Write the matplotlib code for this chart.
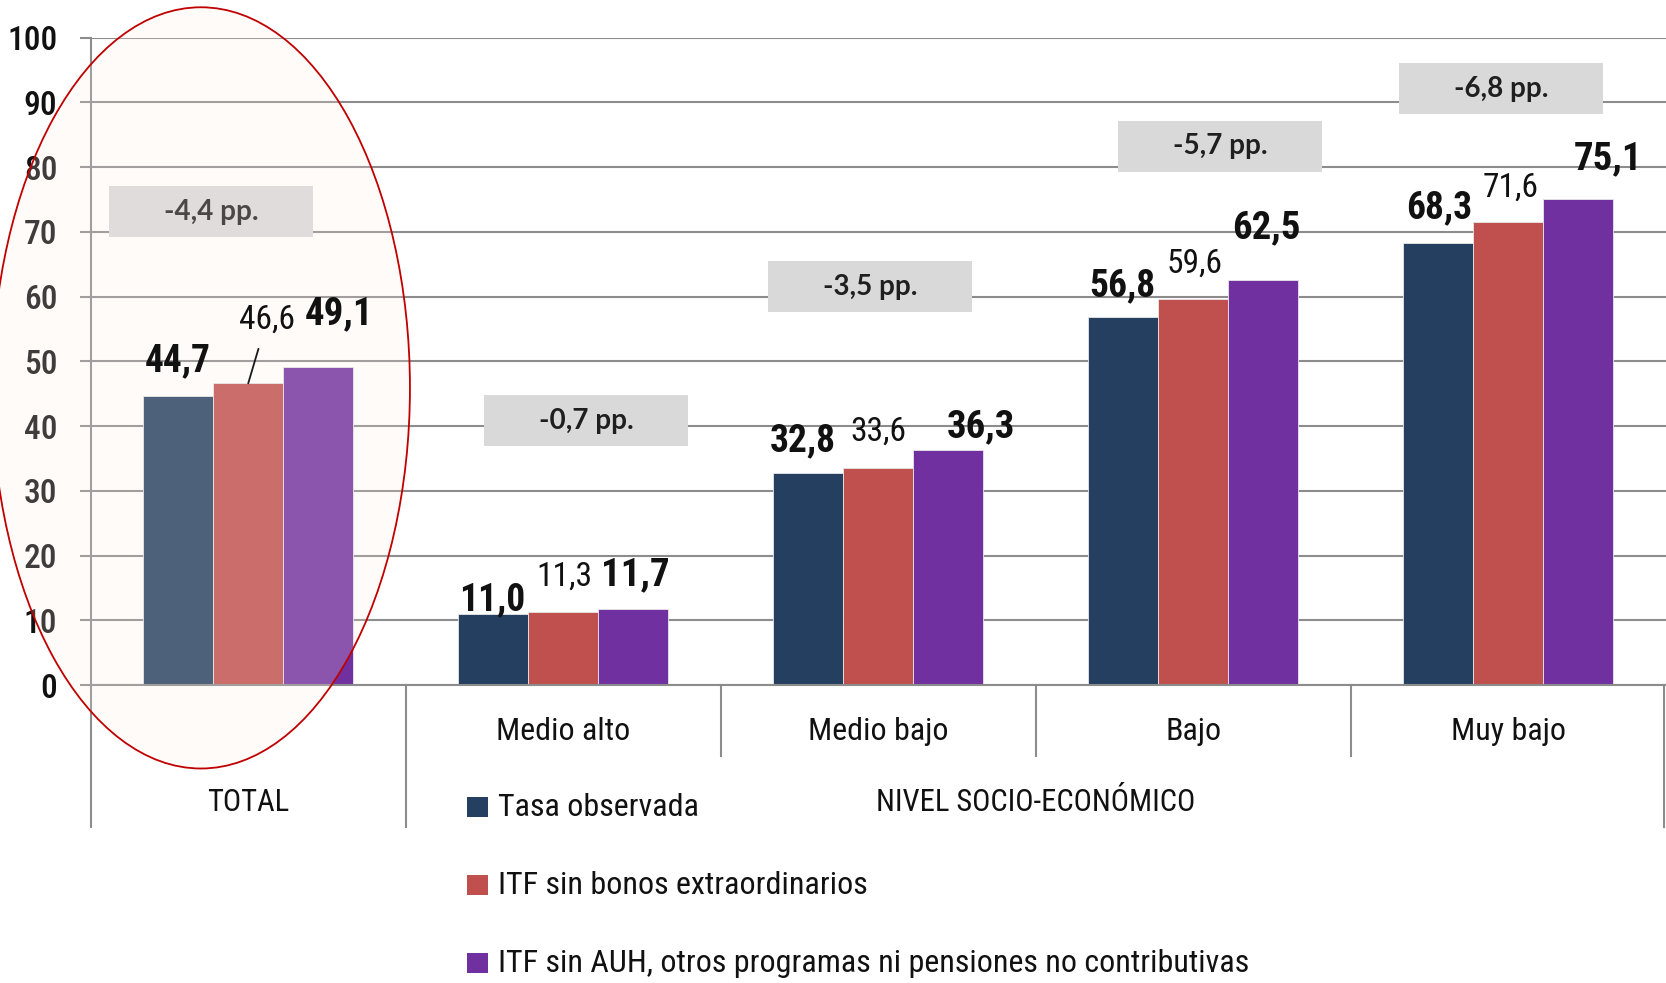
import matplotlib
matplotlib.use('Agg')
import matplotlib.pyplot as plt
from matplotlib.patches import Ellipse, Rectangle
import numpy as np

plt.rcParams['font.family'] = ['Roboto Condensed', 'DejaVu Sans']
plt.rcParams['font.stretch'] = 'condensed'

# datos
grupos = ['TOTAL', 'Medio alto', 'Medio bajo', 'Bajo', 'Muy bajo']
series = ['Tasa observada', 'ITF sin bonos extraordinarios',
          'ITF sin AUH, otros programas ni pensiones no contributivas']
tasa_obs = [44.7, 11.0, 32.8, 56.8, 68.3]
itf_sin_bonos = [46.6, 11.3, 33.6, 59.6, 71.6]
itf_sin_auh = [49.1, 11.7, 36.3, 62.5, 75.1]
yticks = [0, 10, 20, 30, 40, 50, 60, 70, 80, 90, 100]
titulo_nivel = 'NIVEL SOCIO-ECONÓMICO'

colores = ['#243f60', '#c0504d', '#7030a0']
valores = [tasa_obs, itf_sin_bonos, itf_sin_auh]

# desplazamiento de las etiquetas (pixeles, centro de la etiqueta respecto al tope de la barra)
desp = [
    [(0, 35), (-1, 14), (-5, 32), (-1, 32), (1, 35)],
    [(19, 64), (1, 35), (0, 36), (1, 36), (2, 34)],
    [(21, 53), (2, 34), (33, 23), (3, 53), (30, 40)],
]
# cajas de diferencia: desplazamiento x (categorias) y centro y (datos)
caja_dx = [-0.118, 0.072, -0.026, 0.085, -0.023]
caja_y = [73.1, 40.8, 61.5, 83.2, 92.1]

W, H = 1666, 983
fig = plt.figure(figsize=(W / 100, H / 100), dpi=100)
ax = fig.add_axes([90.7 / W, 1 - 685 / H, 1575 / W, 647.3 / H])

x = np.arange(len(grupos))
bw = 70 / 315
for i in range(3):
    ax.bar(x + (i - 1) * bw, valores[i], bw, color=colores[i],
           edgecolor='#e8e8e8', linewidth=0.6, zorder=2)

ax.set_xlim(-0.5, 4.5)
ax.set_ylim(0, 100)
ax.set_yticks(yticks)
ax.set_yticklabels([str(t) for t in yticks], fontsize=24, color='#111111',
                   fontweight='medium')
ax.set_xticks([])
ax.yaxis.grid(True, color='#8c8c8c', linewidth=1.5, zorder=0)
ax.set_axisbelow(True)
ax.tick_params(axis='y', length=8, width=1.5, color='#8c8c8c', pad=16)
for s in ['top', 'right']:
    ax.spines[s].set_visible(False)
for s in ['left', 'bottom']:
    ax.spines[s].set_color('#8c8c8c')
    ax.spines[s].set_linewidth(1.5)

# etiquetas de valores
for i in range(3):
    for g in range(len(grupos)):
        v = valores[i][g]
        txt = f'{v:.1f}'.replace('.', ',')
        dx, dy = desp[i][g]
        peso = 'normal' if i == 1 else 'bold'
        tam = [27, 24, 28][i]
        kw = {}
        if i == 1 and g == 0:
            kw['arrowprops'] = dict(arrowstyle='-', color='#1a1a1a', lw=1.3,
                                    shrinkA=8, shrinkB=0)
        ax.annotate(txt, (x[g] + (i - 1) * bw, v), xytext=(dx, dy),
                    textcoords='offset pixels', ha='center', va='center',
                    fontsize=tam, fontweight=peso, color='#111111',
                    zorder=6, **kw)

# cajas con diferencia en pp.
for g in range(len(grupos)):
    dif = tasa_obs[g] - itf_sin_auh[g]
    cx = x[g] + caja_dx[g]
    cy = caja_y[g]
    ax.add_patch(Rectangle((cx - 0.3238, cy - 3.94), 0.6476, 7.88,
                           facecolor='#d9d9d9', edgecolor='none', zorder=3,
                           clip_on=False))
    ax.text(cx, cy, f'{dif:.1f} pp.'.replace('.', ',', 1), ha='center', va='center',
            fontsize=20, fontweight='bold', fontstretch='normal', color='#1f1f1f',
            family=['Lato', 'DejaVu Sans'], zorder=4, clip_on=False)

# elipse resaltando el total
ax.add_patch(Ellipse((-0.15, 45.9), 1.327, 117.6,
                     facecolor=(250 / 255, 235 / 255, 228 / 255, 0.2),
                     edgecolor='#c00000', linewidth=1.3, zorder=5, clip_on=False))

# ejes de categorias (dos niveles)
tr = ax.get_xaxis_transform()
for g in range(1, len(grupos)):
    ax.text(g, -0.0711, grupos[g], transform=tr, ha='center', va='center',
            fontsize=23, color='#111111')
ax.text(0, -0.1808, grupos[0], transform=tr, ha='center', va='center',
        fontsize=22, color='#111111')
ax.text(2.5, -0.1808, titulo_nivel, transform=tr, ha='center', va='center',
        fontsize=22, color='#111111')
for xs in [1.5, 2.5, 3.5]:
    ax.plot([xs, xs], [0, -0.1097], transform=tr, color='#8c8c8c', lw=1.5,
            clip_on=False)
for xs in [-0.5, 0.5, 4.495]:
    ax.plot([xs, xs], [0, -0.2194], transform=tr, color='#8c8c8c', lw=1.5,
            clip_on=False)

# leyenda
filas = [807, 885, 963]
for i in range(3):
    fig.patches.append(Rectangle((467 / W, 1 - (filas[i] + 10) / H), 21 / W, 20 / H,
                                 facecolor=colores[i], edgecolor='none',
                                 transform=fig.transFigure))
    fig.text(498 / W, 1 - filas[i] / H, series[i], ha='left', va='center',
             fontsize=23, color='#111111')

fig.savefig('out.png', dpi=100)
